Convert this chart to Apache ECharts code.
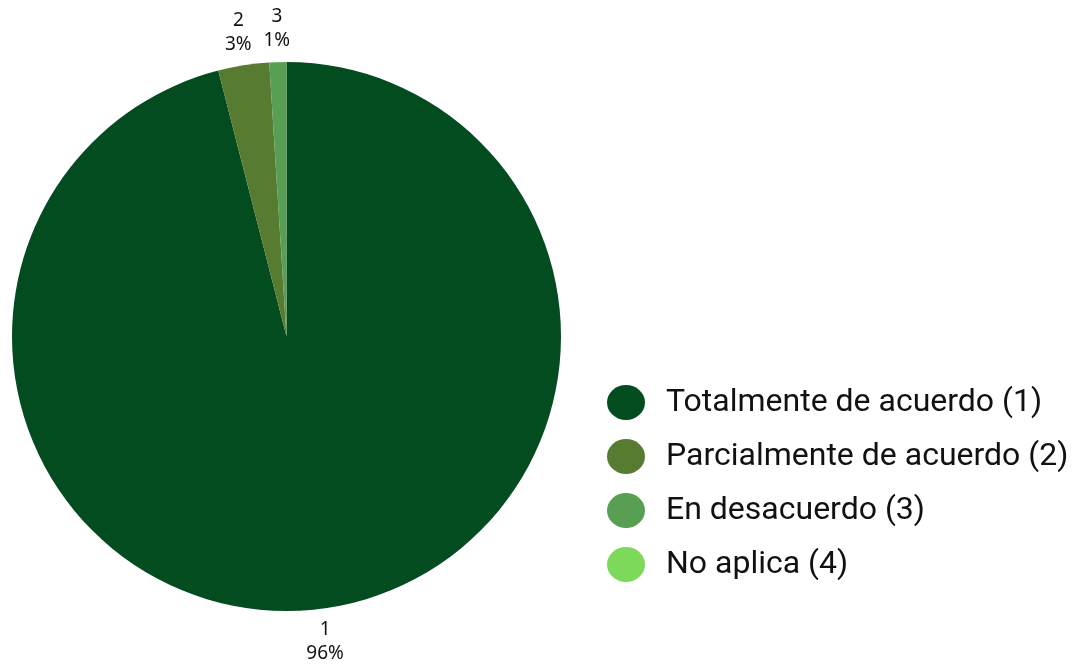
<!DOCTYPE html>
<html>
<head>
<meta charset="utf-8">
<style>
  html, body { margin: 0; padding: 0; background: #ffffff; }
  #chart { width: 1092px; height: 664px; }
</style>
<script src="https://cdn.jsdelivr.net/npm/echarts@6/dist/echarts.min.js"></script>
</head>
<body>
<div id="chart"></div>
<script>
// Survey answers
const categories = [
  'Totalmente de acuerdo (1)',
  'Parcialmente de acuerdo (2)',
  'En desacuerdo (3)',
  'No aplica (4)'
];
const shortLabels = ['1', '2', '3', '4'];
const values = [96, 3, 1, 0];
const colors = ['#034c20', '#577b30', '#589e53', '#7dd95a'];

const CX = 286.5, CY = 336.5, R = 274.5, LABEL_R = 308;

// mid angle (clockwise from 12 o'clock) of each slice, for label placement
const total = values.reduce((a, b) => a + b, 0);
const midAngles = [];
let acc = 0;
values.forEach(v => {
  midAngles.push((acc + v / 2) / total * 2 * Math.PI);
  acc += v;
});

const chart = echarts.init(document.getElementById('chart'), null, { renderer: 'canvas' });

// slightly wide round marker for the legend
const ellipseIcon = 'path://M0,17.5A19,17.5 0 1,1 38,17.5A19,17.5 0 1,1 0,17.5Z';

chart.setOption({
  backgroundColor: '#ffffff',
  animation: false,
  color: colors,
  legend: {
    orient: 'vertical',
    left: 602,
    top: 380,
    itemWidth: 38,
    itemHeight: 35,
    itemGap: 19,
    icon: ellipseIcon,
    data: categories,
    textStyle: {
      fontFamily: 'Roboto',
      fontSize: 32,
      lineHeight: 35,
      color: '#111111',
      padding: [0, 0, 0, 16]
    }
  },
  series: [{
    type: 'pie',
    center: [CX, CY],
    radius: R,
    startAngle: 90,
    clockwise: true,
    avoidLabelOverlap: false,
    minShowLabelAngle: 0,
    label: {
      show: true,
      position: 'outside',
      formatter: p => shortLabels[p.dataIndex] + '\n' + Math.round(p.percent) + '%',
      fontFamily: 'Noto Sans',
      fontSize: 19,
      lineHeight: 24,
      color: '#111111',
      align: 'center'
    },
    labelLine: { show: false },
    labelLayout: p => {
      const a = midAngles[p.dataIndex];
      return {
        x: CX + Math.sin(a) * LABEL_R,
        y: CY - Math.cos(a) * LABEL_R,
        align: 'center',
        verticalAlign: 'middle'
      };
    },
    itemStyle: { borderWidth: 0 },
    emphasis: { disabled: true },
    data: categories.map((name, i) => ({
      name: name,
      value: values[i],
      label: values[i] === 0 ? { show: false } : undefined
    }))
  }]
});
</script>
</body>
</html>
